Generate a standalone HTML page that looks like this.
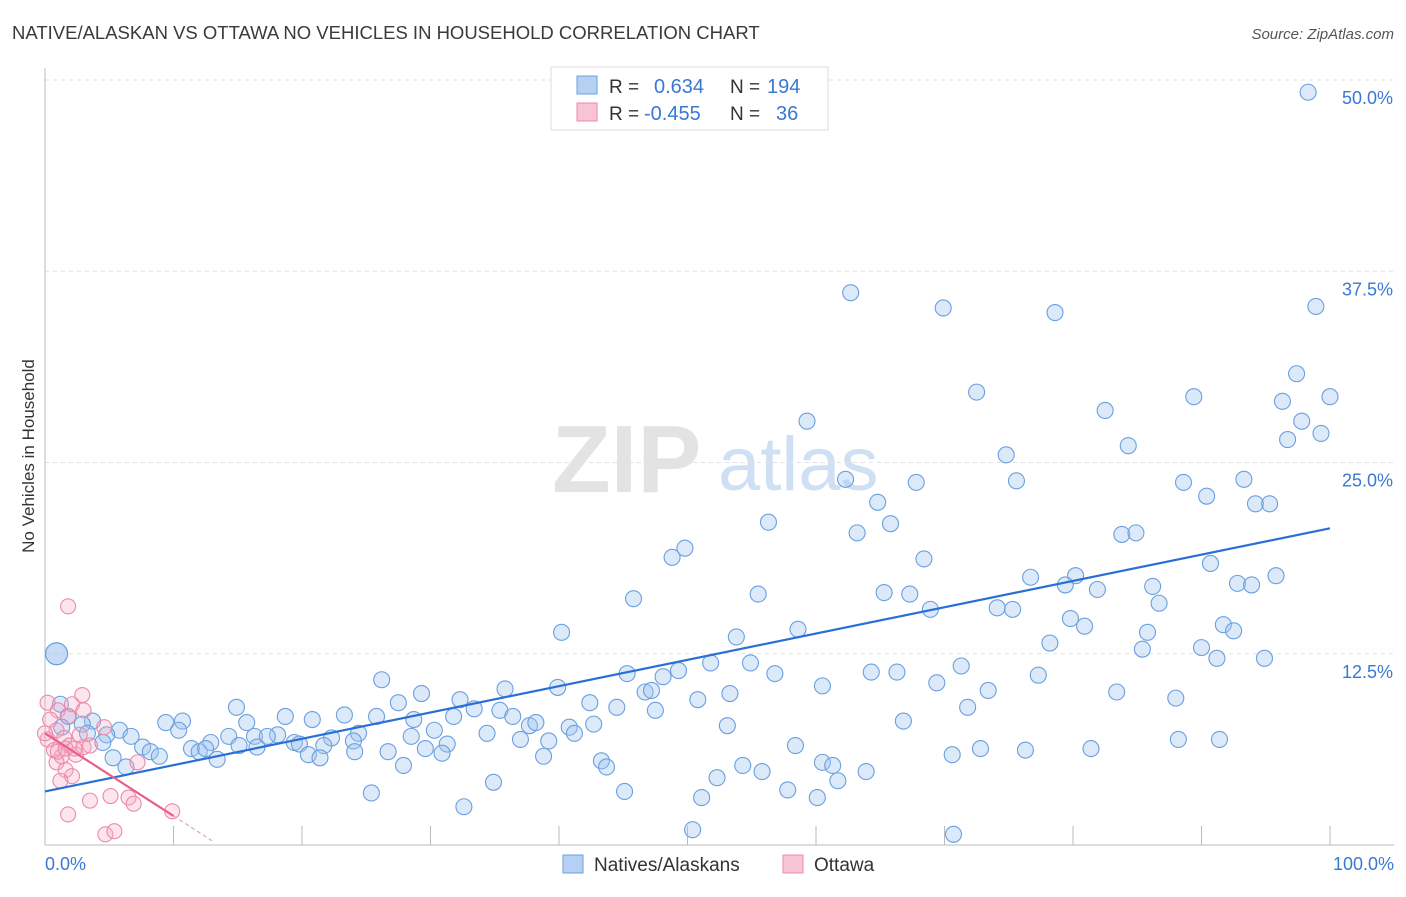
<!DOCTYPE html>
<html><head><meta charset="utf-8">
<style>
body{margin:0;background:#fff;font-family:"Liberation Sans",sans-serif;}
svg text{font-family:"Liberation Sans",sans-serif;}
</style></head>
<body>
<svg id="chart" width="1406" height="892">
<text x="12" y="39" font-size="18.5" fill="#3a3a3a">NATIVE/ALASKAN VS OTTAWA NO VEHICLES IN HOUSEHOLD CORRELATION CHART</text>
<text x="1394" y="39" font-size="15" fill="#555" text-anchor="end" font-style="italic">Source: ZipAtlas.com</text>
<g>
<text x="552" y="492" font-size="96" fill="#e3e3e3" font-family="Liberation Serif" font-weight="bold">ZIP</text>
<text x="718" y="490" font-size="76" fill="#cfe0f4">atlas</text>
</g>
<g id="grid"></g>
<g id="axes"></g>
<g id="marks"></g>
<text transform="translate(34,456) rotate(-90)" font-size="17" fill="#333" text-anchor="middle">No Vehicles in Household</text>
<g>
<rect x="551" y="67" width="277" height="63" fill="#fff" stroke="#ddd"/>
<rect x="577" y="76" width="20" height="18" fill="#b5d0f3" stroke="#6a9fe0"/>
<rect x="577" y="103" width="20" height="18" fill="#f8c3d3" stroke="#ec8aaa"/>
<text x="609" y="93" font-size="19" fill="#333">R = </text><text x="654" y="93" font-size="20" fill="#3a78d4">0.634</text>
<text x="730" y="93" font-size="19" fill="#333">N = </text><text x="767" y="93" font-size="20" fill="#3a78d4">194</text>
<text x="609" y="120" font-size="19" fill="#333">R = </text><text x="644" y="120" font-size="20" fill="#3a78d4">-0.455</text>
<text x="730" y="120" font-size="19" fill="#333">N = </text><text x="776" y="120" font-size="20" fill="#3a78d4">36</text>
</g>
<g>
<rect x="563" y="855" width="20" height="18" fill="#b5d0f3" stroke="#6a9fe0"/>
<text x="594" y="871" font-size="19" fill="#333">Natives/Alaskans</text>
<rect x="783" y="855" width="20" height="18" fill="#f8c3d3" stroke="#ec8aaa"/>
<text x="814" y="871" font-size="19" fill="#333">Ottawa</text>
</g>
</svg>
<script>
const xTicks=[0,10,20,30,40,50,60,70,80,90,100];
const yTicks=[12.5,25,37.5,50];
const yTickLabels=["12.5%","25.0%","37.5%","50.0%"];
const blueX=[98.3,62.7,69.9,78.6,98.9,72.5,59.3,97.4,96.3,89.4,100,82.5,97.8,96.7,99.3,84.3,74.8,62.3,67.8,75.6,88.6,93.3,90.4,64.8,65.8,56.3,94.2,95.3,63.2,83.8,84.9,49.8,48.8,68.4,90.7,76.7,80.2,79.4,86.2,92.8,93.9,95.8,81.9,45.8,65.3,67.3,55.5,86.7,68.9,74.1,75.3,79.8,80.9,91.7,92.5,85.8,40.2,58.6,53.8,78.2,85.4,90.0,91.2,94.9,51.8,54.9,71.3,45.3,49.3,56.8,64.3,66.3,77.3,48.1,26.2,69.4,60.5,73.4,83.4,88.0,46.7,47.2,35.8,39.9,29.3,53.3,50.8,32.3,27.5,44.5,42.4,71.8,33.4,14.9,47.5,35.4,36.4,31.8,28.7,66.8,25.8,23.3,18.7,20.8,9.4,10.7,15.7,37.7,38.2,40.8,42.7,53.1,3.7,5.8,10.4,14.3,16.3,24.4,22.3,18.1,17.3,12.9,30.3,34.4,39.2,37.0,41.2,28.5,6.7,4.8,4.5,19.4,19.8,21.7,26.7,29.6,31.3,30.9,24.0,24.1,7.6,8.2,8.9,11.4,12.0,12.5,13.4,15.1,16.5,20.5,21.4,5.3,38.8,58.4,70.6,72.8,76.3,81.4,88.2,91.4,6.3,27.9,43.3,43.7,54.3,55.8,60.5,61.3,63.9,52.3,34.9,61.7,57.8,45.1,25.4,51.1,60.1,32.6,50.4,70.7,1.2,1.8,2.9,3.3,1.3];
const blueY=[49.2,36.1,35.1,34.8,35.2,29.6,27.7,30.8,29.0,29.3,29.3,28.4,27.7,26.5,26.9,26.1,25.5,23.9,23.7,23.8,23.7,23.9,22.8,22.4,21.0,21.1,22.3,22.3,20.4,20.3,20.4,19.4,18.8,18.7,18.4,17.5,17.6,17.0,16.9,17.1,17.0,17.6,16.7,16.1,16.5,16.4,16.4,15.8,15.4,15.5,15.4,14.8,14.3,14.4,14.0,13.9,13.9,14.1,13.6,13.2,12.8,12.9,12.2,12.2,11.9,11.9,11.7,11.2,11.4,11.2,11.3,11.3,11.1,11.0,10.8,10.6,10.4,10.1,10.0,9.6,10.0,10.1,10.2,10.3,9.9,9.9,9.5,9.5,9.3,9.0,9.3,9.0,8.9,9.0,8.8,8.8,8.4,8.4,8.2,8.1,8.4,8.5,8.4,8.2,8.0,8.1,8.0,7.8,8.0,7.7,7.9,7.8,8.1,7.5,7.5,7.1,7.1,7.3,7.0,7.2,7.1,6.7,7.5,7.3,6.8,6.9,7.3,7.1,7.1,7.2,6.7,6.7,6.6,6.5,6.1,6.3,6.6,6.0,6.8,6.1,6.4,6.1,5.8,6.3,6.1,6.3,5.6,6.5,6.4,5.9,5.7,5.7,5.8,6.5,5.9,6.3,6.2,6.3,6.9,6.9,5.1,5.2,5.5,5.1,5.2,4.8,5.4,5.2,4.8,4.4,4.1,4.2,3.6,3.5,3.4,3.1,3.1,2.5,1.0,0.7,9.2,8.4,7.9,7.3,7.7];
const bigX=[0.9], bigY=[12.5];
const pinkX=[1.8,0.2,1.0,1.8,2.9,2.1,3.0,4.6,0.4,0.9,1.5,1.9,0.2,1.3,0.9,1.6,2.1,1.2,2.4,3.0,7.2,3.5,5.1,6.5,6.9,1.8,9.9,4.7,5.4,0.7,0,1.0,3.5,2.7,1.6,2.3];
const pinkY=[15.6,9.3,8.8,8.4,9.8,9.2,8.8,7.7,8.2,7.5,7.0,6.5,6.9,5.8,5.4,4.9,4.5,4.2,5.9,6.4,5.4,2.9,3.2,3.1,2.7,2.0,2.2,0.7,0.9,6.2,7.3,6.1,6.5,7.2,6.3,6.3];
const blueTrend=[3.5,20.7];
const pinkTrend=[7.3,-0.54];

const NS="http://www.w3.org/2000/svg";
const X=v=>45+v*12.85, Y=v=>845-v*15.3;
function mk(tag,attrs,parent){const e=document.createElementNS(NS,tag);for(const k in attrs)e.setAttribute(k,attrs[k]);parent.appendChild(e);return e;}
const grid=document.getElementById('grid'),axes=document.getElementById('axes'),marks=document.getElementById('marks');
yTicks.forEach((t,i)=>{
 const l=mk('line',{x1:45,x2:1394,y1:Y(t),y2:Y(t),stroke:'#e2e2e2','stroke-dasharray':'4,4'},grid);
 
 
 const tx=mk('text',{x:1393,y:Y(t)+24,'font-size':18,fill:'#3a78d4','text-anchor':'end'},axes);
 tx.textContent=yTickLabels[i];
 
 
});
const ya=mk('line',{x1:45,x2:45,y1:68,y2:845,stroke:'#bbb'},axes);


const xa=mk('line',{x1:45,x2:1394,y1:845,y2:845,stroke:'#bbb'},axes);


xTicks.forEach(t=>{
 const l=mk('line',{x1:X(t),x2:X(t),y1:826,y2:845,stroke:'#bbb'},axes);
 
 
});
[[0,'0.0%','start',45],[100,'100.0%','end',1394]].forEach(a=>{
 const t=mk('text',{x:a[3],y:870,'font-size':18,fill:'#3a78d4','text-anchor':a[2]},axes);
 t.textContent=a[1];
 
 
});
blueX.forEach((x,i)=>{
 const c=mk('circle',{cx:X(x),cy:Y(blueY[i]),r:8,fill:'rgba(160,196,240,0.38)',stroke:'#6a9fe0','stroke-width':1.1},marks);
 
 
});
bigX.forEach((x,i)=>{
 const c=mk('circle',{cx:X(x),cy:Y(bigY[i]),r:11,fill:'rgba(160,196,240,0.6)',stroke:'#6a9fe0','stroke-width':1.2},marks);
 
 
});
pinkX.forEach((x,i)=>{
 const c=mk('circle',{cx:X(x),cy:Y(pinkY[i]),r:7.5,fill:'rgba(245,170,195,0.3)',stroke:'#ec8aaa','stroke-width':1.1},marks);
 
 
});
const bt=mk('line',{x1:X(0),y1:Y(blueTrend[0]),x2:X(100),y2:Y(blueTrend[1]),stroke:'#2a6fd6','stroke-width':2.2},marks);


const pf=x=>pinkTrend[0]+pinkTrend[1]*x;
const pt=mk('line',{x1:X(0),y1:Y(pf(0)),x2:X(10),y2:Y(pf(10)),stroke:'#e8608a','stroke-width':2.2},marks);


const pd=mk('line',{x1:X(10),y1:Y(pf(10)),x2:X(13),y2:Y(pf(13)),stroke:'#e8a0b8','stroke-width':1.2,'stroke-dasharray':'4,3'},marks);


</script>
</body></html>
